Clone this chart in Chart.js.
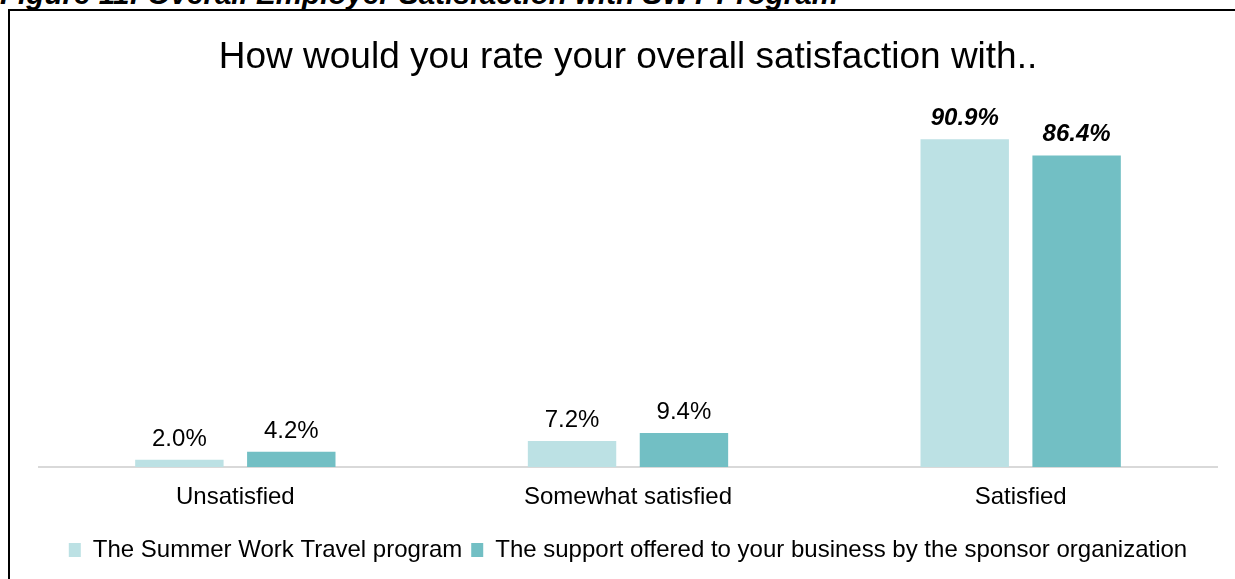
<!DOCTYPE html>
<html lang="en">
<head>
<meta charset="UTF-8">
<title>Overall Employer Satisfaction</title>
<script src="https://cdn.jsdelivr.net/npm/chart.js"></script>
<style>
    html, body { margin: 0; padding: 0; background: #fff; }
    body { width: 1235px; height: 579px; position: relative; overflow: hidden; font-family: "Liberation Sans", Arial, sans-serif; }
    .legenda { position: absolute; left: 0; top: -23px; font-size: 29.6px; font-weight: bold; font-style: italic; white-space: nowrap; color: #000; }
    .moldura { position: absolute; left: 8px; top: 9px; right: -10px; bottom: -10px; border-left: 2px solid #000; border-top: 2px solid #000; }
    .area { position: absolute; left: 0; top: 0; width: 1235px; height: 579px; }
</style>
</head>
<body>
    <div class="legenda">Figure 11: Overall Employer Satisfaction with SWT Program</div>
    <div class="moldura"></div>
    <div class="area"><canvas id="grafico" width="1235" height="579"></canvas></div>

<script>
    const categorias = ['Unsatisfied', 'Somewhat satisfied', 'Satisfied'];
    const programaSWT = [2.0, 7.2, 90.9];
    const apoioPatrocinador = [4.2, 9.4, 86.4];
    const nomesSeries = ['The Summer Work Travel program', 'The support offered to your business by the sponsor organization'];

    const fonte = '"Liberation Sans", Arial, sans-serif';

    // escreve o valor em cima de cada barra; "Satisfied" fica em negrito itálico
    const rotulosBarras = {
        id: 'rotulosBarras',
        afterDatasetsDraw(chart) {
            const ctx = chart.ctx;
            ctx.save();
            ctx.fillStyle = '#000';
            ctx.textAlign = 'center';
            ctx.textBaseline = 'alphabetic';
            chart.data.datasets.forEach((ds, d) => {
                chart.getDatasetMeta(d).data.forEach((barra, i) => {
                    const destaque = categorias[i] === 'Satisfied';
                    ctx.font = (destaque ? 'italic bold ' : '') + '24px ' + fonte;
                    ctx.fillText(ds.data[i].toFixed(1) + '%', barra.x, barra.y - 14);
                });
            });
            ctx.restore();
        }
    };

    new Chart(document.getElementById('grafico'), {
        type: 'bar',
        data: {
            labels: categorias,
            datasets: [
                { label: nomesSeries[0], data: programaSWT, backgroundColor: '#BCE1E4' },
                { label: nomesSeries[1], data: apoioPatrocinador, backgroundColor: '#72BFC4' }
            ]
        },
        options: {
            responsive: false,
            animation: false,
            devicePixelRatio: 1,
            categoryPercentage: 0.57,
            barPercentage: 0.79,
            layout: { padding: { left: 39, right: 18, top: 0, bottom: 7 } },
            plugins: {
                title: {
                    display: true,
                    text: 'How would you rate your overall satisfaction with..',
                    color: '#000',
                    font: { family: fonte, size: 37, weight: 'normal' },
                    padding: { top: 36, bottom: 26 }
                },
                legend: {
                    position: 'bottom',
                    // título vazio só para abrir espaço entre o eixo e a legenda
                    title: { display: true, text: '', font: { size: 1 }, padding: { top: 0, bottom: 9 } },
                    labels: {
                        color: '#000',
                        boxWidth: 12,
                        boxHeight: 14,
                        padding: 9,
                        font: { family: fonte, size: 24 }
                    }
                },
                tooltip: { enabled: false }
            },
            scales: {
                x: {
                    grid: { display: false },
                    border: { color: '#D9D9D9', width: 2 },
                    ticks: { color: '#000', font: { family: fonte, size: 24, lineHeight: 1.575 }, padding: 3 }
                },
                y: { display: false, min: 0, max: 100 }
            }
        },
        plugins: [rotulosBarras]
    });
</script>
</body>
</html>
